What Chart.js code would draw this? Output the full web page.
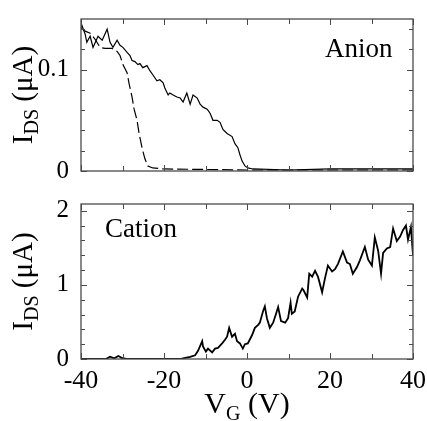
<!DOCTYPE html>
<html>
<head>
<meta charset="utf-8">
<script src="https://cdn.jsdelivr.net/npm/chart.js@4"></script>
<style>
  html, body { margin: 0; padding: 0; background: #fff; }
  #wrap { position: relative; width: 427px; height: 421px; }
  canvas { position: absolute; left: 0; }
</style>
</head>
<body>
<div id="wrap">
  <canvas id="anionChart" width="427" height="190" style="top:0"></canvas>
  <canvas id="cationChart" width="427" height="236" style="top:185px"></canvas>
</div>
<script>
// Gate sweep data (V_G in V, I_DS in uA)
const vgAnionSolid = [-40, -39.8, -39, -38.6, -37.8, -37.1, -35.9, -34.9, -33.7, -33, -32.3, -31.3, -30.6, -29.9,
    -28.9, -28.2, -27.7, -27, -26.3, -25.8, -25.1, -24.1, -23.4, -22.7, -21.7, -21, -20.2, -19.8, -19, -18.6,
    -17.8, -16.9, -16.1, -15.4, -14.5, -13.7, -13, -12, -11.3, -10.6, -9.6, -8.9, -8.2, -7.2, -6.5, -5.8,
    -4.8, -3.6, -2.9, -2.2, -1.7, -1.2, -0.5, 0.2, 1.4, 10, 20, 30, 40];
const idsAnionSolid = [0.142, 0.144, 0.135, 0.127, 0.133, 0.122, 0.133, 0.129, 0.140, 0.127, 0.122, 0.129, 0.124, 0.122,
    0.117, 0.114, 0.109, 0.108, 0.105, 0.106, 0.102, 0.104, 0.099, 0.095, 0.089, 0.090, 0.087, 0.082, 0.075, 0.077,
    0.075, 0.073, 0.072, 0.068, 0.077, 0.066, 0.075, 0.072, 0.066, 0.063, 0.061, 0.057, 0.050, 0.050, 0.048, 0.041,
    0.037, 0.034, 0.027, 0.023, 0.016, 0.010, 0.005, 0.003, 0.002, 0.001, 0.002, 0.002, 0.002];

const vgAnionDashed = [-40, -39, -37.8, -36.6, -35.4, -34.2, -32.5, -31.3, -30.6, -29.9, -28.9, -28.4, -27.7,
    -27.2, -26.5, -26, -25.3, -24.6, -23.9, -22.7, -20, 0, 20, 40];
const idsAnionDashed = [0.141, 0.138, 0.136, 0.130, 0.122, 0.121, 0.121, 0.118, 0.114, 0.105, 0.097, 0.086, 0.073,
    0.061, 0.050, 0.037, 0.023, 0.012, 0.005, 0.003, 0.002, 0.001, 0.001, 0.001];

const vgCation = [-40, -34, -33, -32, -31, -30, -29, -16, -15.4, -13.7, -12.5, -11.8, -10.8, -10.6, -9.9, -9.4,
    -8.4, -7.7, -7, -6, -5.3, -4.8, -4.3, -3.6, -2.9, -2.4, -1.7, -1, -0.5, 0.2, 1.2, 1.9, 2.7, 3.1, 3.9, 4.3,
    4.8, 5.5, 6.3, 7, 7.5, 8.2, 9.2, 9.9, 10.5, 10.8, 11.5, 12.3, 13.3, 13.6, 14.5, 15, 15.7, 16.4, 17.1, 18.1,
    18.8, 19.5, 20.5, 21.2, 21.9, 23.1, 24.1, 24.8, 25.5, 26.5, 27.2, 28.4, 29.2, 30.1, 30.8, 31.6, 32.3, 32.8,
    33.7, 34.5, 35.2, 36.1, 36.9, 37.6, 38.3, 38.8, 39.5, 40];
const idsCation = [0, 0, 0.03, 0.01, 0.04, 0.01, 0, 0, 0.01, 0.03, 0.05, 0.11, 0.24, 0.17, 0.10, 0.14,
    0.09, 0.14, 0.15, 0.21, 0.26, 0.30, 0.42, 0.30, 0.34, 0.24, 0.21, 0.14, 0.20, 0.21, 0.32, 0.42, 0.46, 0.49, 0.65, 0.71,
    0.55, 0.42, 0.49, 0.61, 0.70, 0.51, 0.49, 0.55, 0.76, 0.61, 0.64, 0.84, 0.95, 0.93, 0.83, 1.15, 1.11, 1.19, 1.11, 0.90,
    1.09, 1.26, 1.18, 1.21, 1.28, 1.45, 1.30, 1.28, 1.15, 1.24, 1.33, 1.51, 1.34, 1.26, 1.64, 1.46, 1.15, 1.43,
    1.49, 1.51, 1.76, 1.59, 1.65, 1.74, 1.80, 1.61, 1.78, 1.40];

// Tick labels
const xTickLabels = [-40, -20, 0, 20, 40];
const yAnionTickLabels = [0, 0.1];
const yCationTickLabels = [0, 1, 2];

const FONT = '"Liberation Serif", "Times New Roman", serif';
const AXIS_COLOR = '#4a4a4a';

function toPoints(xs, ys) {
    return xs.map((x, i) => ({ x: x, y: ys[i] }));
}

function isLabelled(list, v) {
    return list.some(t => Math.abs(t - v) < 1e-9);
}

/**
 * Frame around the plot area with inward ticks on all four sides
 */
const frameTicks = {
    id: 'frameTicks',
    afterDraw(chart, args, opts) {
        const { ctx, chartArea: a } = chart;
        const xs = chart.scales.x;
        const ys = chart.scales.y;
        ctx.save();
        ctx.strokeStyle = AXIS_COLOR;
        ctx.lineWidth = 1.3;
        ctx.strokeRect(a.left, a.top, a.right - a.left, a.bottom - a.top);

        ctx.lineWidth = 1;
        ctx.beginPath();
        for (let i = 0; xs.min + i * opts.xStep <= xs.max + 1e-9; i++) {
            const v = xs.min + i * opts.xStep;
            const px = Math.round(xs.getPixelForValue(v)) + 0.5;
            const len = isLabelled(xTickLabels, v) ? 6 : 5;
            ctx.moveTo(px, a.bottom); ctx.lineTo(px, a.bottom - len);
            ctx.moveTo(px, a.top); ctx.lineTo(px, a.top + len);
        }
        for (let i = 0; i * opts.yStep <= ys.max + 1e-9; i++) {
            const v = i * opts.yStep;
            const py = Math.round(ys.getPixelForValue(v)) + 0.5;
            const len = isLabelled(opts.yLabels, v) ? 6 : 4;
            ctx.moveTo(a.left, py); ctx.lineTo(a.left + len, py);
            ctx.moveTo(a.right, py); ctx.lineTo(a.right - len, py);
        }
        ctx.stroke();
        ctx.restore();
    }
};

/**
 * Draw a text made of normal and subscript parts, centred on x
 */
function drawParts(ctx, parts, x, y, size) {
    const subSize = Math.round(size * 0.68);
    let total = 0;
    parts.forEach(p => {
        ctx.font = (p.sub ? subSize : size) + 'px ' + FONT;
        p.w = ctx.measureText(p.t).width;
        total += p.w;
    });
    let cx = x - total / 2;
    parts.forEach(p => {
        ctx.font = (p.sub ? subSize : size) + 'px ' + FONT;
        ctx.fillText(p.t, cx, p.sub ? y + size * 0.22 : y);
        cx += p.w;
    });
}

const panelText = {
    id: 'panelText',
    afterDraw(chart, args, opts) {
        const { ctx, chartArea: a } = chart;
        ctx.save();
        ctx.fillStyle = '#000';
        ctx.textAlign = 'left';
        ctx.textBaseline = 'alphabetic';

        // panel name
        ctx.font = '27px ' + FONT;
        ctx.fillText(opts.name, opts.nameX, opts.nameY);

        // y axis title, rotated
        ctx.save();
        ctx.translate(opts.yTitleX, (a.top + a.bottom) / 2);
        ctx.rotate(-Math.PI / 2);
        drawParts(ctx, [{ t: 'I' }, { t: 'DS', sub: true }, { t: ' (\u03BCA)' }], 0, 0, 29);
        ctx.restore();

        // x axis title
        if (opts.xTitleY) {
            drawParts(ctx, [{ t: 'V' }, { t: 'G', sub: true }, { t: ' (V)' }], (a.left + a.right) / 2, opts.xTitleY, 30);
        }
        ctx.restore();
    }
};

function buildOptions(yMax, yLabels, showX, xAxisHeight, padTop) {
    return {
        responsive: false,
        animation: false,
        layout: { autoPadding: false, padding: { top: padTop, right: 14, left: 0, bottom: 0 } },
        elements: { point: { radius: 0 }, line: { tension: 0 } },
        plugins: { legend: { display: false }, tooltip: { enabled: false } },
        scales: {
            x: {
                type: 'linear',
                min: -40,
                max: 40,
                grid: { display: false },
                border: { display: false },
                afterFit: s => { s.height = xAxisHeight; },
                afterBuildTicks: s => { s.ticks = xTickLabels.map(v => ({ value: v })); },
                ticks: {
                    display: showX,
                    color: '#000',
                    padding: -1,
                    maxRotation: 0,
                    font: { family: FONT, size: 26 },
                    callback: v => String(v)
                }
            },
            y: {
                min: 0,
                max: yMax,
                grid: { display: false },
                border: { display: false },
                afterFit: s => { s.width = 81; },
                afterBuildTicks: s => { s.ticks = yLabels.map(v => ({ value: v })); },
                ticks: {
                    color: '#000',
                    padding: 4,
                    font: { family: FONT, size: 25 },
                    callback: v => String(v)
                }
            }
        }
    };
}

// Top panel: anion
const anionOptions = buildOptions(0.15, yAnionTickLabels, false, 12, 12);
anionOptions.plugins.frameTicks = { xStep: 10, yStep: 0.02, yLabels: yAnionTickLabels };
anionOptions.plugins.panelText = { name: 'Anion', nameX: 325, nameY: 57, yTitleX: 32 };

new Chart(document.getElementById('anionChart'), {
    type: 'line',
    data: {
        datasets: [
            {
                data: toPoints(vgAnionSolid, idsAnionSolid),
                borderColor: '#000',
                borderWidth: 1.2,
                fill: false
            },
            {
                data: toPoints(vgAnionDashed, idsAnionDashed),
                borderColor: '#000',
                borderWidth: 1.2,
                borderDash: [11, 4],
                fill: false
            }
        ]
    },
    options: anionOptions,
    plugins: [frameTicks, panelText]
});

// Bottom panel: cation
const cationOptions = buildOptions(2.09, yCationTickLabels, true, 62, 7);
cationOptions.plugins.frameTicks = { xStep: 10, yStep: 0.2, yLabels: yCationTickLabels };
cationOptions.plugins.panelText = { name: 'Cation', nameX: 105, nameY: 52, yTitleX: 32, xTitleY: 228 };

new Chart(document.getElementById('cationChart'), {
    type: 'line',
    data: {
        datasets: [
            {
                data: toPoints(vgCation, idsCation),
                borderColor: '#000',
                borderWidth: 1.8,
                fill: false
            }
        ]
    },
    options: cationOptions,
    plugins: [frameTicks, panelText]
});
</script>
</body>
</html>
